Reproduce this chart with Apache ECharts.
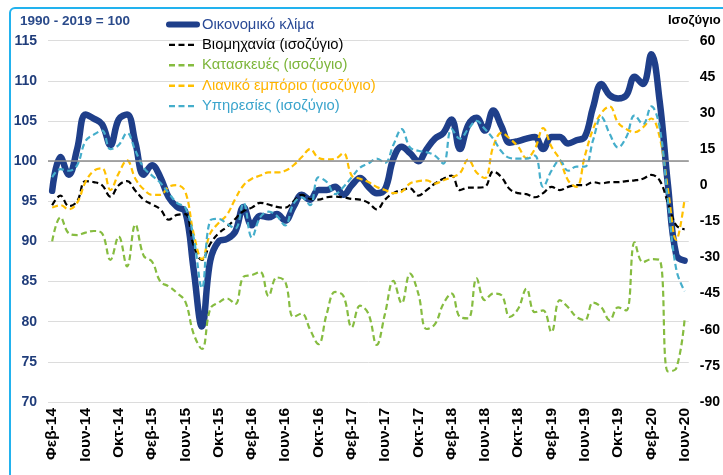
<!DOCTYPE html>
<html><head><meta charset="utf-8">
<script src="https://cdn.jsdelivr.net/npm/echarts@6/dist/echarts.min.js"></script>
<style>html,body{margin:0;padding:0;background:#fff}#c{width:723px;height:475px}</style>
</head><body><div id="c"></div>
<script>
// Category labels: monthly, Feb 2014 – Jun 2020
const monthNames = ['Ιαν','Φεβ','Μαρ','Απρ','Μαϊ','Ιουν','Ιουλ','Αυγ','Σεπ','Οκτ','Νοε','Δεκ'];
const firstYear = 2014, firstMonth = 1, monthCount = 77;
const categories = [];
for (let k = 0; k < monthCount; k++) {
  const m = (firstMonth + k) % 12;
  const y = firstYear + Math.floor((firstMonth + k) / 12);
  categories.push(monthNames[m] + '-' + String(y).slice(2));
}

const seriesNames = ['Οικονομικό κλίμα','Βιομηχανία (ισοζύγιο)','Κατασκευές (ισοζύγιο)','Λιανικό εμπόριο (ισοζύγιο)','Υπηρεσίες (ισοζύγιο)'];

// Left axis (index, 1990-2019 = 100)
const climate = [96.3,100.5,98.3,101.5,105.8,105.3,104.6,102,105.2,105.8,102.3,98.3,99.5,98,95.5,94.3,93.7,86.5,79.4,87.6,90,90.3,91.2,94.3,92,93.2,93,93.4,92.6,94.3,95.8,95.2,96.4,96.4,96.8,95.8,97,97.9,96.8,96,96.5,100.3,101.8,101,100,101.5,102.8,103.5,105.2,101.5,104.5,105.4,103.8,106.3,104.3,102.3,102.5,102.8,103,101.5,103,103,102.2,102.6,103,106.7,109.6,108.2,107.8,108.2,110.5,109.6,113.3,107.5,97,88.3,87.6];

// Right axis (balances)
const industry = [-8.3,-4.3,-8.7,-6.7,1.7,1.3,0,-4.7,0,1.7,-2.3,-6,-8,-10,-14.3,-12.3,-12,-25,-31,-24.3,-20,-17.3,-14,-10.7,-9.3,-7.3,-8,-9,-9.3,-6.7,-4,-5.7,-6,-5,-4.7,-5,-5.7,-6,-7.3,-10,-6,-3.3,-2,-1.3,-4.3,-2,0.7,2.7,4,-2,-1,-1,-0.7,5.7,3.3,-1.7,-3.3,-3.7,-5,-3.3,-0.7,-2,-0.7,0,0,1.3,0.7,1.3,1.3,1.7,2,2.7,4.3,2,-7.3,-16.7,-18.3];
const construction = [-23.3,-13.3,-20,-20.7,-19.7,-19,-20,-31,-21.3,-33.7,-16.3,-29.3,-31.7,-40,-42,-44.7,-48.3,-61.7,-68,-51.3,-48.7,-47,-49.3,-38,-37.3,-36,-46,-38.3,-40,-54.7,-53.3,-60,-66,-53.3,-44.3,-46,-59,-50,-53.3,-66.3,-53.3,-39.7,-49,-36.7,-45,-59.7,-57.7,-49.3,-45,-54.7,-55.3,-38.7,-47.7,-45,-45.7,-54.7,-51.3,-43,-52.7,-52,-61,-47.7,-50.7,-54.7,-56,-48.7,-50.7,-56,-50.7,-52,-23.7,-32,-30.7,-31,-77.3,-76,-55.7];
const retail = [-9.3,-8.3,-10,-7.3,1.3,6,7,-2,5,10.3,2.7,-1.7,-4,-4,-0.7,0,-2.7,-20,-30.7,-20,-15.7,-12.3,-5.7,0,2.7,4,5.3,5.3,6,8.3,11.7,15,11.3,10.7,11,13.3,4,2.7,1.3,-0.7,-2,-3.3,-2.7,0.7,1.7,2,0.7,2,3.3,5,10.7,5.3,3,16,21.7,19.3,16,11.3,15,23.7,16,10.7,2,-0.7,12,23.3,30,32.7,26,23.3,22,24,27.7,20,-1.7,-22.7,-5.7];
const services = [3.3,6.7,6,8.3,18.3,21,22.7,15,16.7,21.7,14.3,7.3,4,1,-3.3,-7.3,-9.3,-21.7,-42.7,-14.7,-14,-16,-18,-7.3,-21.7,-13.3,-11,-12.7,-16.7,-7.7,-5,-8.3,3.3,1.3,-3.7,-0.7,3.3,7.3,9,11,9.3,16.7,23.3,15.7,14.3,13.7,12.3,9,23.3,19.3,23.3,26.7,23.3,19.3,14,11.3,11,11,12.3,-0.7,6,10.3,6,7.7,7.7,18.7,28.3,21.3,15.7,20,29,25.3,32.7,24,-6.7,-35,-44];

const baseLine = 100;
const leftTicks = {min: 70, max: 115, interval: 5};
const rightTicks = {min: -90, max: 60, interval: 15};

const colors = ['#1F3F8A', '#000000', '#86BC40', '#FFC000', '#45AECB'];
const textColors = ['#2A4A96', '#000000', '#7DB53A', '#FFB400', '#3AA4CC'];
const FONT = '"Liberation Sans", Arial, sans-serif';
const dash = [6, 3.5];

const chart = echarts.init(document.getElementById('c'), null, {renderer: 'canvas'});
const dashed = (idx, data) => ({
  name: seriesNames[idx], type: 'line', yAxisIndex: 1, data: data,
  smooth: 0.4, symbol: 'none', showSymbol: false,
  lineStyle: {color: colors[idx], width: 2.2, type: dash},
  itemStyle: {color: colors[idx]}
});

chart.setOption({
  animation: false,
  backgroundColor: '#ffffff',
  textStyle: {fontFamily: FONT},
  graphic: [
    {type: 'rect', shape: {x: 10, y: 8, width: 800, height: 600, r: 5}, style: {fill: 'none', stroke: '#22B2EE', lineWidth: 2}, z: 0},
    {type: 'text', left: 20, top: 14, style: {text: '1990 - 2019 = 100', font: 'bold 13.5px ' + FONT, fill: '#2A4A8A'}},
    {type: 'text', left: 668, top: 14, style: {text: 'Ισοζύγιο', font: 'bold 13px ' + FONT, fill: '#000'}}
  ],
  grid: {left: 48, right: 25, top: 40.7, bottom: 73, containLabel: false},
  legend: {
    orient: 'vertical', left: 161, top: 12, itemWidth: 28, itemHeight: 14, itemGap: 5.4,
    itemStyle: {opacity: 0},
    textStyle: {fontSize: 14.8, fontFamily: FONT},
    data: seriesNames.map((n, i) => ({
      name: n, textStyle: {color: textColors[i]},
      lineStyle: i === 0 ? {width: 6, cap: 'round'} : {width: 2.4}
    }))
  },
  xAxis: {
    type: 'category', data: categories, boundaryGap: true,
    axisLine: {show: false}, axisTick: {show: false},
    axisLabel: {interval: 3, rotate: 90, fontWeight: 'bold', fontSize: 15.5, color: '#000', margin: 6, fontFamily: FONT}
  },
  yAxis: [
    {type: 'value', position: 'left', min: leftTicks.min, max: leftTicks.max, interval: leftTicks.interval,
     axisLine: {show: false}, axisTick: {show: false},
     axisLabel: {color: '#1F3C7A', fontWeight: 'bold', fontSize: 14, margin: 11, fontFamily: FONT},
     splitLine: {lineStyle: {color: '#DCDCDC', width: 1}}},
    {type: 'value', position: 'right', min: rightTicks.min, max: rightTicks.max, interval: rightTicks.interval,
     axisLine: {show: false}, axisTick: {show: false},
     axisLabel: {color: '#000', fontWeight: 'bold', fontSize: 14, margin: 11, fontFamily: FONT},
     splitLine: {show: false}}
  ],
  series: [
    {name: 'ref', type: 'line', yAxisIndex: 0, data: [], z: 1, silent: true,
     markLine: {silent: true, symbol: 'none', label: {show: false},
       lineStyle: {color: '#8C8C8C', width: 1.5, type: 'solid'}, data: [{yAxis: baseLine}]}},
    {name: seriesNames[0], type: 'line', yAxisIndex: 0, data: climate, smooth: 0.4,
     symbol: 'none', showSymbol: false,
     lineStyle: {color: colors[0], width: 6.5, cap: 'round', join: 'round'}, itemStyle: {color: colors[0]}},
    dashed(1, industry),
    dashed(2, construction),
    dashed(3, retail),
    dashed(4, services)
  ]
});
</script></body></html>
